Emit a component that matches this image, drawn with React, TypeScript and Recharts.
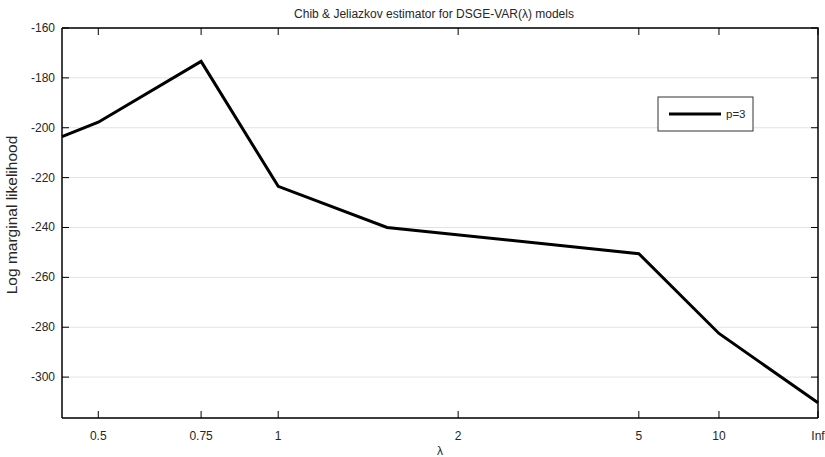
import React from "react";
import { LineChart, Line, XAxis, YAxis, CartesianGrid, Label } from "recharts";

// position of each lambda on the (non-uniform) x axis, in percent of the axis width
const pointPositions = [0, 4.8, 18.4, 28.6, 43.0, 76.3, 86.9, 100];
const logMarginalLikelihood = [-203.6, -197.8, -173.4, -223.5, -240.0, -250.5, -282.5, -310.3];

const xTickPositions = [4.8, 18.4, 28.6, 52.4, 76.3, 86.9, 100];
const xTickLabels = ["0.5", "0.75", "1", "2", "5", "10", "Inf"];
const yTicks = [-300, -280, -260, -240, -220, -200, -180, -160];
const seriesName = "p=3";

const X_DOMAIN: [number, number] = [0, 100];
const Y_DOMAIN: [number, number] = [-316.4, -160];

// layout
const W = 825;
const H = 457;
const MARGIN = { top: 28, right: 7, bottom: 0, left: 10 };
const Y_AXIS_W = 52;
const X_AXIS_H = 39;
const PLOT = {
    left: MARGIN.left + Y_AXIS_W,
    right: W - MARGIN.right,
    top: MARGIN.top,
    bottom: H - MARGIN.bottom - X_AXIS_H,
};

const data = pointPositions.map((pos, i) => ({ pos, value: logMarginalLikelihood[i] }));

const FONT = "'Liberation Sans', Arial, sans-serif";
const TEXT = "#262626";

const BottomTick = (props: any) => {
    const { x, y, payload } = props;
    const idx = xTickPositions.indexOf(payload.value);
    return (
        <g>
            <line x1={x} y1={y} x2={x} y2={y - 7} stroke="#000" strokeWidth={1} />
            <text x={x} y={y + 22} textAnchor="middle" fontSize={12} fontFamily={FONT} fill={TEXT}>
                {xTickLabels[idx]}
            </text>
        </g>
    );
};

const LeftTick = (props: any) => {
    const { x, y, payload } = props;
    return (
        <g>
            <line x1={x} y1={y} x2={x + 7} y2={y} stroke="#000" strokeWidth={1} />
            <text x={x - 7} y={y + 4} textAnchor="end" fontSize={12} fontFamily={FONT} fill={TEXT}>
                {payload.value}
            </text>
        </g>
    );
};

// title, x label and legend
const Decorations = () => (
    <g>
        <text x={434} y={18} textAnchor="middle" fontSize={12} fontFamily={FONT} fill={TEXT}>
            Chib &amp; Jeliazkov estimator for DSGE-VAR(λ) models
        </text>
        <text x={440} y={455} textAnchor="middle" fontSize={12} fontFamily={FONT} fill={TEXT}>
            λ
        </text>
        <rect x={658} y={97} width={95} height={34} fill="#fff" stroke="#333" strokeWidth={1} />
        <line x1={669} y1={114} x2={721} y2={114} stroke="#000" strokeWidth={3} />
        <text x={726} y={118} fontSize={11.5} fontFamily={FONT} fill={TEXT}>
            {seriesName}
        </text>
    </g>
);

// top and right edges of the box with inward ticks, drawn as an overlay
const BoxFrame = () => {
    const { left, right, top, bottom } = PLOT;
    const xAt = (p: number) => left + ((p - X_DOMAIN[0]) / (X_DOMAIN[1] - X_DOMAIN[0])) * (right - left);
    const yAt = (v: number) => top + ((Y_DOMAIN[1] - v) / (Y_DOMAIN[1] - Y_DOMAIN[0])) * (bottom - top);
    return (
        <svg
            width={W}
            height={H}
            style={{ position: "absolute", left: 0, top: 0, pointerEvents: "none" }}
        >
            <path d={`M${left},${top}H${right}V${bottom}`} fill="none" stroke="#000" strokeWidth={1.5} />
            {xTickPositions.map((p) => (
                <path key={`tt-${p}`} d={`M${xAt(p)},${top}V${top + 7}`} stroke="#000" strokeWidth={1} />
            ))}
            {yTicks.map((t) => (
                <path key={`rt-${t}`} d={`M${right},${yAt(t)}H${right - 7}`} stroke="#000" strokeWidth={1} />
            ))}
        </svg>
    );
};

export default function App() {
    return (
        <div style={{ position: "absolute", left: 0, top: 0, width: W, height: H, background: "#fff" }}>
            <LineChart width={W} height={H} data={data} margin={MARGIN}>
                <CartesianGrid vertical={false} stroke="#e2e2e2" />
                <XAxis
                    dataKey="pos"
                    type="number"
                    domain={X_DOMAIN}
                    ticks={xTickPositions}
                    interval={0}
                    height={X_AXIS_H}
                    tickSize={0}
                    tickMargin={0}
                    tick={<BottomTick />}
                    axisLine={{ stroke: "#000", strokeWidth: 1.5 }}
                >
                    <Label content={() => <Decorations />} />
                </XAxis>
                <YAxis
                    type="number"
                    domain={Y_DOMAIN}
                    ticks={yTicks}
                    interval={0}
                    width={Y_AXIS_W}
                    tickSize={0}
                    tickMargin={0}
                    tick={<LeftTick />}
                    axisLine={{ stroke: "#000", strokeWidth: 1.5 }}
                >
                    <Label
                        content={() => (
                            <text
                                x={17}
                                y={215}
                                transform="rotate(-90 17 215)"
                                textAnchor="middle"
                                fontSize={15.5}
                                fontFamily={FONT}
                                fill={TEXT}
                            >
                                Log marginal likelihood
                            </text>
                        )}
                    />
                </YAxis>
                <Line
                    dataKey="value"
                    name={seriesName}
                    stroke="#000"
                    strokeWidth={3}
                    dot={false}
                    isAnimationActive={false}
                />
            </LineChart>
            <BoxFrame />
        </div>
    );
}
